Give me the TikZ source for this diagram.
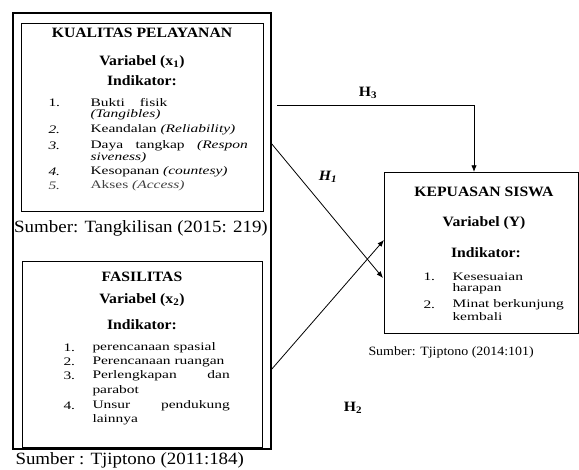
\documentclass[tikz,border=0pt]{standalone}
\usepackage{fontspec}
\setmainfont{Liberation Serif}[FakeStretch=1.1]
\newfontfamily\itemfont{Liberation Serif}[FakeStretch=1.35]
\usetikzlibrary{arrows.meta}

\tikzset{every picture/.style={line width=0.75pt}}
\tikzset{
	box/.style={draw, rectangle, inner sep=0pt, outer sep=0pt},
	head/.style={font=\fontsize{10.7}{12}\selectfont\bfseries},
	item/.style={anchor=west, inner sep=0pt, font=\itemfont\fontsize{8.6}{10}\selectfont},
	src/.style={inner sep=0pt, font=\fontsize{12.9}{14}\selectfont},
	hyp/.style={font=\fontsize{10.7}{12}\selectfont\bfseries},
	arr/.style={-{Latex[length=5pt,width=4pt]}, line width=0.6pt}
}

\begin{document}
\begin{tikzpicture}[x=0.75pt,y=0.75pt,yscale=-1,xscale=1]
		\useasboundingbox (0,0) rectangle (579,469);

		%boxes
		\node [box, line width=1.6pt, minimum width=193.5pt, minimum height=327pt] (outer) at (142,231) {};
		\node [box, minimum width=181.5pt, minimum height=141pt] (kual) at (142,117) {};
		\node [box, minimum width=180pt, minimum height=139.5pt] (fas) at (142,354) {};
		\node [box, minimum width=145.5pt, minimum height=120.75pt] (kep) at (481,252.5) {};

		%kualitas pelayanan
		\node [head] (kualT) at (142,33) {KUALITAS PELAYANAN};
		\node [head] (kualV) at (142,62) {Variabel (x\textsubscript{1})};
		\node [head] (kualI) at (142,81) {Indikator:};
		\node [item] (k1n) at (48,103) {1.};
		\node [item] (k1) at (90,103) {Bukti\hspace{1.3em}fisik};
		\node [item] (k1b) at (90,115) {\textit{(Tangibles)}};
		\node [item] (k2n) at (48,130) {\textit{2.}};
		\node [item] (k2) at (90,130) {Keandalan \textit{(Reliability)}};
		\node [item] (k3n) at (48,146) {\textit{3.}};
		\node [item] (k3) at (90,146) {\makebox[118pt][s]{Daya tangkap \textit{(Respon}}};
		\node [item] (k3b) at (90,158) {\textit{siveness)}};
		\node [item] (k4n) at (48,172) {\textit{4.}};
		\node [item] (k4) at (90,172) {Kesopanan \textit{(countesy)}};
		\node [item, text=black!75] (k5n) at (48,186) {\textit{5.}};
		\node [item, text=black!75] (k5) at (90,186) {Akses \textit{(Access)}};
		\node [src] (kualS) at (141,228) {Sumber: Tangkilisan (2015: 219)};

		%fasilitas
		\node [head] (fasT) at (142,277) {FASILITAS};
		\node [head] (fasV) at (142,300) {Variabel (x\textsubscript{2})};
		\node [head] (fasI) at (142,325) {Indikator:};
		\node [item] (f1n) at (63,348) {1.};
		\node [item] (f1) at (92,348) {perencanaan spasial};
		\node [item] (f2n) at (63,362) {2.};
		\node [item] (f2) at (92,362) {Perencanaan ruangan};
		\node [item] (f3n) at (63,376) {3.};
		\node [item] (f3) at (92,376) {\makebox[103pt][s]{Perlengkapan dan}};
		\node [item] (f3b) at (92,391) {parabot};
		\node [item] (f4n) at (63,406) {4.};
		\node [item] (f4) at (92,406) {\makebox[103pt][s]{Unsur pendukung}};
		\node [item] (f4b) at (92,420) {lainnya};
		\node [src, anchor=west] (fasS) at (15,460) {Sumber : Tjiptono (2011:184)};

		%kepuasan siswa
		\node [head] (kepT) at (484,192) {KEPUASAN SISWA};
		\node [head] (kepV) at (484,223) {Variabel (Y)};
		\node [head] (kepI) at (486,253) {Indikator:};
		\node [item] (y1n) at (423,277) {1.};
		\node [item] (y1) at (452,277) {Kesesuaian};
		\node [item] (y1b) at (452,289) {harapan};
		\node [item] (y2n) at (423,305) {2.};
		\node [item] (y2) at (452,305) {Minat berkunjung};
		\node [item] (y2b) at (452,317) {kembali};
		\node [src, anchor=west, font=\fontsize{9.5}{11}\selectfont] (kepS) at (368,352) {Sumber: Tjiptono (2014:101)};

		%hipotesis
		\coordinate (h1a) at (271,143);
		\coordinate (h1b) at (383,278);
		\coordinate (h2a) at (271,370);
		\coordinate (h2b) at (384,240);
		\coordinate (h3a) at (277,105);
		\coordinate (h3b) at (474,172);
		\draw [arr] (h1a) -- (h1b);
		\draw [arr] (h2a) -- (h2b);
		\draw [arr] (h3a) -| (h3b);

		\node [hyp] (h1) at (328,177) {\textit{H\textsubscript{1}}};
		\node [hyp] (h2) at (353,408) {H\textsubscript{2}};
		\node [hyp] (h3) at (368,93) {H\textsubscript{3}};

\end{tikzpicture}
\end{document}
